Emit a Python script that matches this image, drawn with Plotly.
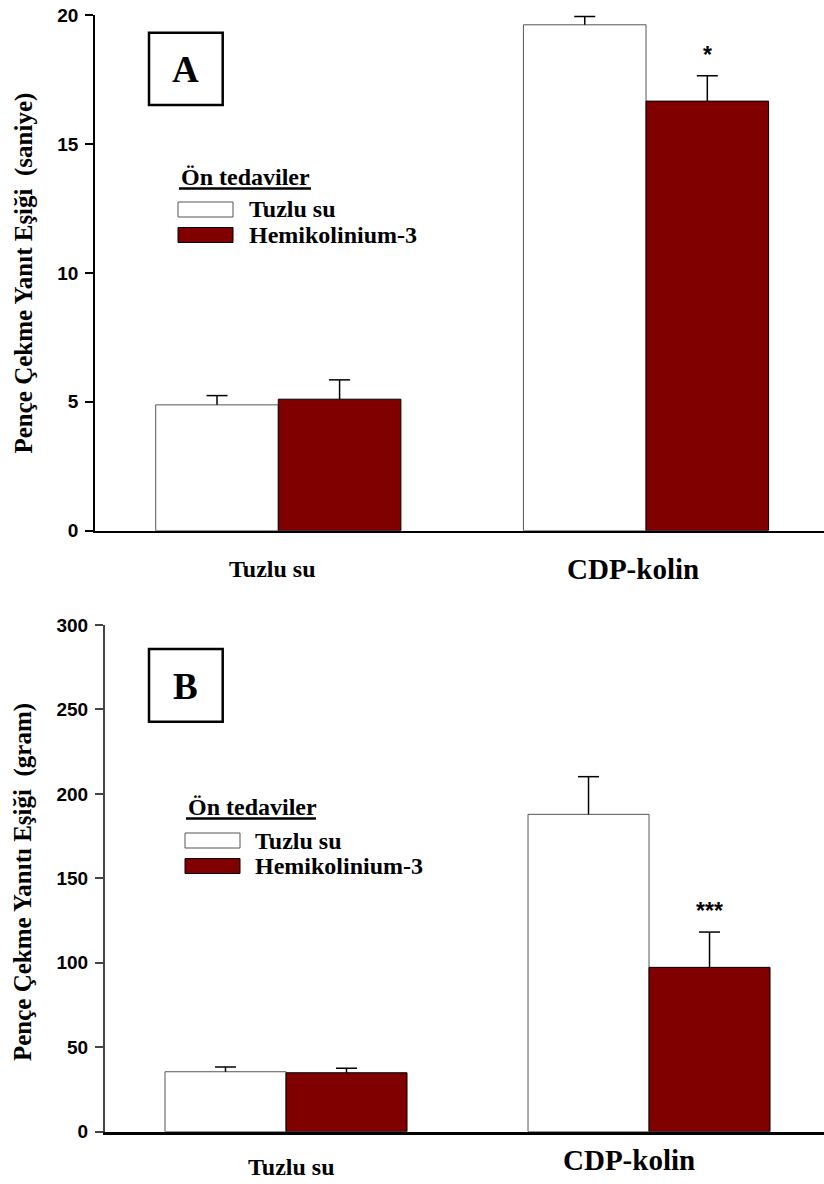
import plotly.graph_objects as go

W, H = 824, 1184

# ---------------- data ----------------
groups = ["Tuzlu su", "CDP-kolin"]
legend_names = ["Tuzlu su", "Hemikolinium-3"]

# Panel A: latency (saniye)
a_saline = [4.88, 19.62]
a_saline_err = [0.36, 0.32]
a_hc3 = [5.10, 16.66]
a_hc3_err = [0.75, 0.98]
a_sig = ["", "*"]

# Panel B: threshold (gram)
b_saline = [35.5, 187.9]
b_saline_err = [2.8, 22.3]
b_hc3 = [34.9, 97.3]
b_hc3_err = [2.6, 20.9]
b_sig = ["", "***"]

a_ticks = [0, 5, 10, 15, 20]
b_ticks = [0, 50, 100, 150, 200, 250, 300]

SERIF = "Liberation Serif, Times New Roman, serif"
SANS = "Liberation Sans, Arial, sans-serif"
RED = "#800000"


def px(x):
    return x / W


def py(y):
    return 1 - y / H


fig = go.Figure()
xs = list(range(len(groups)))
half = 1 / 6  # half of the group spacing occupied by one bar

for (sal, sal_e, hc, hc_e, xa, ya) in [
    (a_saline, a_saline_err, a_hc3, a_hc3_err, "x", "y"),
    (b_saline, b_saline_err, b_hc3, b_hc3_err, "x2", "y2"),
]:
    fig.add_trace(go.Bar(
        x=xs, y=sal, name=legend_names[0], xaxis=xa, yaxis=ya,
        marker=dict(color="white", line=dict(color="#555555", width=1)),
        error_y=dict(type="data", array=sal_e, arrayminus=[0] * len(sal_e),
                     symmetric=False, color="black", thickness=1.5, width=0),
        showlegend=False,
    ))
    fig.add_trace(go.Bar(
        x=xs, y=hc, name=legend_names[1], xaxis=xa, yaxis=ya,
        marker=dict(color=RED, line=dict(color="black", width=1)),
        error_y=dict(type="data", array=hc_e, arrayminus=[0] * len(hc_e),
                     symmetric=False, color="black", thickness=1.5, width=0),
        showlegend=False,
    ))
    # caps on top of the error bars
    cap_x = [i - half for i in xs] + [i + half for i in xs]
    cap_y = [v + e for v, e in zip(sal, sal_e)] + [v + e for v, e in zip(hc, hc_e)]
    fig.add_trace(go.Scatter(
        x=cap_x, y=cap_y, xaxis=xa, yaxis=ya, mode="markers",
        marker=dict(symbol="line-ew", size=15, line=dict(color="black", width=1.5)),
        showlegend=False, hoverinfo="skip",
    ))

tickfont = dict(family=SANS, size=19, color="black", weight="bold")

fig.update_layout(
    width=W, height=H,
    margin=dict(l=0, r=0, t=0, b=0),
    paper_bgcolor="white", plot_bgcolor="white",
    barmode="group", bargap=1 / 3, bargroupgap=0,
    xaxis=dict(domain=[px(95), 1], range=[-0.4985, 1.484], showticklabels=False,
               ticks="", showline=True, linecolor="black", linewidth=2,
               showgrid=False, zeroline=False, anchor="y"),
    yaxis=dict(domain=[py(530.7), py(15)], range=[0, 20], tickvals=a_ticks,
               ticks="outside", ticklen=8, tickwidth=1.5, tickcolor="black",
               showline=True, linecolor="black", linewidth=1.5, ticklabelstandoff=3,
               showgrid=False, zeroline=False, tickfont=tickfont, anchor="x",
               automargin=False),
    xaxis2=dict(domain=[px(105), 1], range=[-0.4986, 1.482], showticklabels=False,
                ticks="", showline=True, linecolor="black", linewidth=2.5,
                showgrid=False, zeroline=False, anchor="y2"),
    yaxis2=dict(domain=[py(1131.7), py(625)], range=[0, 300], tickvals=b_ticks,
                ticks="outside", ticklen=8, tickwidth=1.5, tickcolor="#444444",
                showline=True, linecolor="#444444", linewidth=2, ticklabelstandoff=3,
                showgrid=False, zeroline=False, tickfont=tickfont, anchor="x2",
                automargin=False),
)

ann = []
shapes = []

# y-axis titles
ann.append(dict(text="<b>Pençe Çekme Yanıt Eşiği\u00a0 (saniye)</b>", textangle=-90,
                x=px(23), y=py(273.5), xref="paper", yref="paper", showarrow=False,
                font=dict(family=SERIF, size=25, color="black"),
                xanchor="center", yanchor="middle"))
ann.append(dict(text="<b>Pençe Çekme Yanıtı Eşiği\u00a0 (gram)</b>", textangle=-90,
                x=px(23), y=py(882), xref="paper", yref="paper", showarrow=False,
                font=dict(family=SERIF, size=25, color="black"),
                xanchor="center", yanchor="middle"))

# category labels
cat_pos = {
    ("x", 0): (-6, 569), ("x", 1): (-13, 569),
    ("x2", 0): (5, 1167), ("x2", 1): (-20, 1160),
}
for xa in ["x", "x2"]:
    for i, g in enumerate(groups):
        dx, yc = cat_pos[(xa, i)]
        ann.append(dict(text=f"<b>{g}</b>", x=i, xref=xa, xshift=dx,
                        y=py(yc), yref="paper", showarrow=False,
                        font=dict(family=SERIF, size=24 if i == 0 else 29, color="black"),
                        xanchor="center", yanchor="middle"))

# significance stars
for xa, ya, vals, errs, sig in [("x", "y", a_hc3, a_hc3_err, a_sig),
                                ("x2", "y2", b_hc3, b_hc3_err, b_sig)]:
    for i, s in enumerate(sig):
        if s:
            ann.append(dict(text=f"<b>{s}</b>", x=i + half, xref=xa,
                            y=vals[i] + errs[i], yref=ya, yshift=21,
                            showarrow=False, xanchor="center", yanchor="middle",
                            font=dict(family=SANS, size=23, color="black")))

# panel labels with boxes
for label, (x0, y0, x1, y1) in [("A", (149, 32.7, 222.7, 105)),
                                ("B", (149, 649, 222.7, 721.7))]:
    shapes.append(dict(type="rect", xref="paper", yref="paper",
                       x0=px(x0), x1=px(x1), y0=py(y1), y1=py(y0),
                       line=dict(color="black", width=2.5), fillcolor="white"))
    ann.append(dict(text=f"<b>{label}</b>", x=px((x0 + x1) / 2), y=py((y0 + y1) / 2 + 1),
                    xref="paper", yref="paper", showarrow=False,
                    xanchor="center", yanchor="middle",
                    font=dict(family=SERIF, size=37, color="black")))

# custom legends
for (hx, hy, ul_x1, bx, by0, tx) in [(179, 177, 311, 178, 202, 247),
                                     (186, 807, 316, 185, 833, 253)]:
    ann.append(dict(text="<b>Ön tedaviler</b>", x=px(hx), y=py(hy), xref="paper", yref="paper",
                    showarrow=False, xanchor="left", yanchor="middle",
                    font=dict(family=SERIF, size=24, color="black")))
    shapes.append(dict(type="line", xref="paper", yref="paper",
                       x0=px(hx), x1=px(ul_x1), y0=py(hy + 11.5), y1=py(hy + 11.5),
                       line=dict(color="black", width=2.7)))
    for k, (nm, fc, lc) in enumerate([(legend_names[0], "white", "#555555"),
                                      (legend_names[1], RED, "black")]):
        y0 = by0 + 25.5 * k
        shapes.append(dict(type="rect", xref="paper", yref="paper",
                           x0=px(bx), x1=px(bx + 55), y0=py(y0 + 15), y1=py(y0),
                           line=dict(color=lc, width=1), fillcolor=fc))
        ann.append(dict(text=f"<b>{nm}</b>", x=px(tx), y=py(y0 + 7.5),
                        xref="paper", yref="paper", showarrow=False,
                        xanchor="left", yanchor="middle",
                        font=dict(family=SERIF, size=24, color="black")))

fig.update_layout(annotations=ann, shapes=shapes)
fig.write_html("out.html")
